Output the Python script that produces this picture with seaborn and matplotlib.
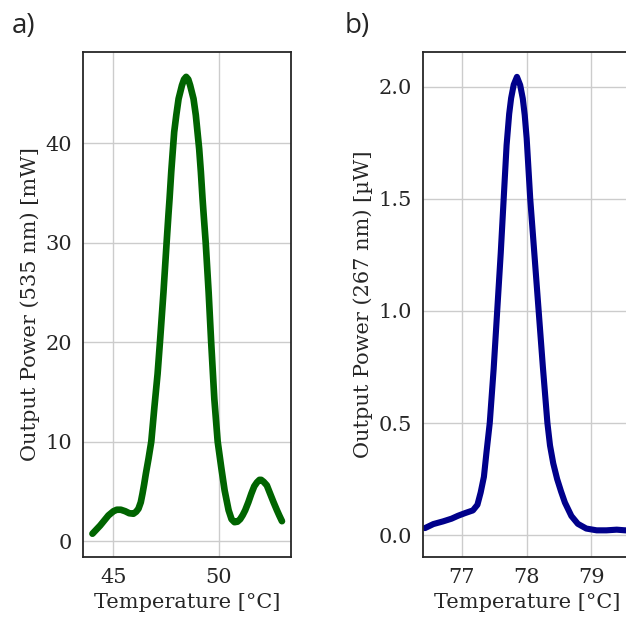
import matplotlib
matplotlib.use("Agg")
import matplotlib.pyplot as plt
import seaborn as sns

# panel a) green output vs temperature
temp_a = [44.0, 44.37, 44.76, 45.0, 45.16, 45.35, 45.56, 45.75, 45.95, 46.08,
          46.19, 46.30, 46.38, 46.46, 46.54, 46.67, 46.80, 46.95, 47.1, 47.23,
          47.38, 47.53, 47.62, 47.67, 47.75, 47.83, 47.89, 47.99, 48.10, 48.26,
          48.36, 48.46, 48.56, 48.65, 48.81, 48.92, 49.0, 49.08, 49.16, 49.24,
          49.29, 49.39, 49.53, 49.65, 49.8, 49.96, 50.13, 50.29, 50.48, 50.62,
          50.76, 50.9, 51.03, 51.15, 51.27, 51.42, 51.56, 51.70, 51.83, 51.95,
          52.03, 52.15, 52.30, 52.45, 52.62, 52.78, 52.89, 53.02]
power_a = [0.74, 1.57, 2.58, 3.0, 3.15, 3.15, 3.0, 2.8, 2.75, 2.95,
           3.25, 3.9, 4.75, 5.7, 6.75, 8.3, 10.0, 13.5, 16.8, 20.5,
           25.0, 30.0, 32.9, 34.4, 37.1, 39.4, 41.1, 42.8, 44.45, 45.8,
           46.4, 46.65, 46.4, 45.8, 44.45, 42.8, 41.1, 39.4, 37.1, 34.4,
           32.9, 30.0, 25.0, 20.0, 14.3, 10.0, 7.4, 5.1, 3.1, 2.2,
           1.9, 1.95, 2.2, 2.6, 3.1, 3.9, 4.75, 5.5, 5.9, 6.15,
           6.15, 5.95, 5.6, 4.8, 3.9, 3.1, 2.58, 2.0]

# panel b) UV output vs temperature
temp_b = [76.43, 76.56, 76.71, 76.84, 76.94, 77.05, 77.17, 77.24, 77.29, 77.34,
          77.38, 77.43, 77.49, 77.545, 77.60, 77.645, 77.69, 77.73, 77.76, 77.80,
          77.85, 77.90, 77.94, 77.97, 78.00, 78.055, 78.12, 78.185, 78.25, 78.32,
          78.36, 78.41, 78.47, 78.53, 78.59, 78.69, 78.79, 78.92, 79.08, 79.23,
          79.39, 79.52, 79.7]
power_b = [0.031, 0.049, 0.061, 0.073, 0.086, 0.098, 0.11, 0.135, 0.19, 0.26,
           0.37, 0.50, 0.74, 1.0, 1.26, 1.50, 1.74, 1.88, 1.95, 2.01,
           2.045, 2.008, 1.948, 1.874, 1.77, 1.50, 1.25, 1.0, 0.75, 0.50,
           0.40, 0.32, 0.25, 0.195, 0.145, 0.085, 0.05, 0.029, 0.021, 0.021,
           0.024, 0.021, 0.02]

sns.set_theme(style="whitegrid")
plt.rcParams['font.family'] = ['DejaVu Serif']
plt.rcParams['axes.edgecolor'] = '.15'
plt.rcParams['axes.linewidth'] = 1.3
plt.rcParams['grid.color'] = '.8'

fig = plt.figure(figsize=(6.26, 6.22), dpi=100)
ax1 = fig.add_axes([83 / 626, 65 / 622, 208 / 626, 505 / 622])
ax2 = fig.add_axes([423 / 626, 65 / 622, 208 / 626, 505 / 622])

sns.lineplot(x=temp_a, y=power_a, ax=ax1, color='#006400', lw=4.8,
             solid_capstyle='round', solid_joinstyle='round')
ax1.set_xlim(43.55, 53.45)
ax1.set_ylim(-1.6, 49.15)
ax1.set_xticks([45, 50])
ax1.set_yticks([0, 10, 20, 30, 40])
ax1.set_xlabel("Temperature [°C]", fontsize=15)
ax1.set_ylabel("Output Power (535 nm) [mW]", fontsize=15)

sns.lineplot(x=temp_b, y=power_b, ax=ax2, color='#00008b', lw=4.4,
             solid_capstyle='round', solid_joinstyle='round')
ax2.set_xlim(76.4, 79.61)
ax2.set_ylim(-0.098, 2.156)
ax2.set_xticks([77, 78, 79])
ax2.set_yticks([0.0, 0.5, 1.0, 1.5, 2.0])
ax2.set_yticklabels(["0.0", "0.5", "1.0", "1.5", "2.0"])
ax2.set_xlabel("Temperature [°C]", fontsize=15)
ax2.set_ylabel("Output Power (267 nm) [µW]", fontsize=15)

for ax in (ax1, ax2):
    ax.tick_params(labelsize=15, length=0, pad=8)

fig.text(12 / 626, 1 - 33 / 622, "a)", fontsize=20, family=['Open Sans'])
fig.text(345 / 626, 1 - 33 / 622, "b)", fontsize=20, family=['Open Sans'])

fig.savefig("out.png", dpi=100)
